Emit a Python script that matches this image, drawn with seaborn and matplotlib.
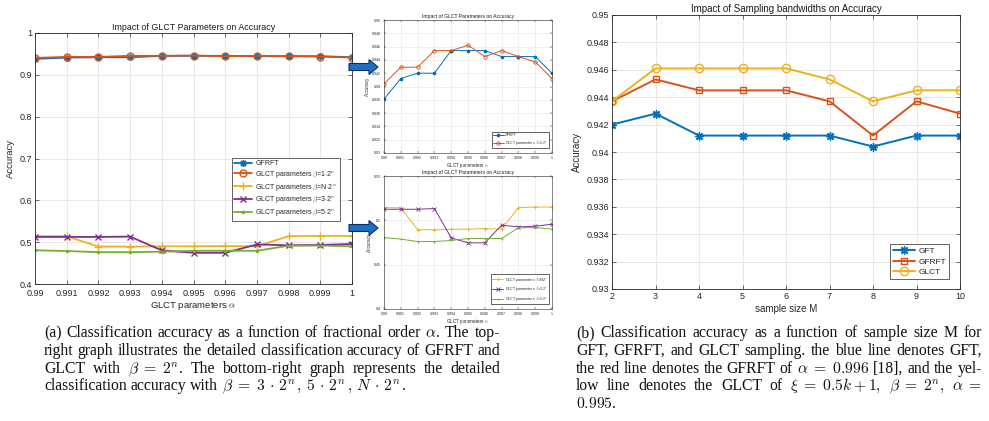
import matplotlib
matplotlib.use("Agg")
import matplotlib.pyplot as plt
import seaborn as sns
from matplotlib.patches import FancyArrow

# ---------------- data ----------------
alpha_grid = [0.99, 0.991, 0.992, 0.993, 0.994, 0.995, 0.996, 0.997, 0.998, 0.999, 1.0]
alpha_labels = ["0.99", "0.991", "0.992", "0.993", "0.994", "0.995",
                "0.996", "0.997", "0.998", "0.999", "1"]

gfrft_alpha = [0.9381, 0.9412, 0.9420, 0.9420, 0.9454, 0.9454, 0.9454, 0.9445, 0.9445, 0.9445, 0.9420]
glct_beta1 = [0.9404, 0.9429, 0.9429, 0.9454, 0.9454, 0.9462, 0.9445, 0.9454, 0.9445, 0.9437, 0.9412]
glct_betaN = [0.5144, 0.5140, 0.4896, 0.4893, 0.4900, 0.4900, 0.4907, 0.4900, 0.5144, 0.5150, 0.5150]
glct_beta3 = [0.5125, 0.5125, 0.5125, 0.5133, 0.4803, 0.4746, 0.4746, 0.4945, 0.4926, 0.4934, 0.4956]
glct_beta5 = [0.4806, 0.4788, 0.4761, 0.4761, 0.4773, 0.4795, 0.4795, 0.4795, 0.4915, 0.4919, 0.4900]

main_yticks = [0.4, 0.5, 0.6, 0.7, 0.8, 0.9, 1.0]
main_ylabels = ["0.4", "0.5", "0.6", "0.7", "0.8", "0.9", "1"]
top_yticks = [0.93, 0.932, 0.934, 0.936, 0.938, 0.94, 0.942, 0.944, 0.946, 0.948, 0.95]
top_ylabels = ["0.93", "0.932", "0.934", "0.936", "0.938", "0.94",
               "0.942", "0.944", "0.946", "0.948", "0.95"]
bot_yticks = [0.4, 0.45, 0.5, 0.55]
bot_ylabels = ["0.4", "0.45", "0.5", "0.55"]

sample_sizes = [2, 3, 4, 5, 6, 7, 8, 9, 10]
gft_M = [0.9420, 0.9428, 0.9412, 0.9412, 0.9412, 0.9412, 0.9404, 0.9412, 0.9412]
gfrft_M = [0.9437, 0.9453, 0.9445, 0.9445, 0.9445, 0.9437, 0.9412, 0.9437, 0.9428]
glct_M = [0.9437, 0.9461, 0.9461, 0.9461, 0.9461, 0.9453, 0.9437, 0.9445, 0.9445]

BLUE, ORANGE, YELLOW, PURPLE, GREEN = "#0072BD", "#D95319", "#EDB120", "#7E2F8E", "#77AC30"
ASTERISK = (8, 2, 0)

# ---------------- style ----------------
sns.set_theme(style="whitegrid")
plt.rcParams["font.family"] = ["Liberation Sans", "DejaVu Sans"]
plt.rcParams["mathtext.fontset"] = "cm"
plt.rcParams["axes.unicode_minus"] = False

W, H, DPI = 989, 421, 100
fig = plt.figure(figsize=(W / DPI, H / DPI), dpi=DPI)
fig.patch.set_facecolor("white")


def box(l, t, r, b):
    return [l / W, 1 - b / H, (r - l) / W, (b - t) / H]


ax_a = fig.add_axes(box(35, 33, 352, 284))
ax_top = fig.add_axes(box(384, 20, 552, 153))
ax_bot = fig.add_axes(box(384, 176, 552, 309))
ax_b = fig.add_axes(box(612, 15, 960, 289))


def matlab_axes(ax, fs, tick_len, lw=0.6, xpad=2):
    ax.set_facecolor("white")
    for s in ax.spines.values():
        s.set_visible(True)
        s.set_color("#262626")
        s.set_linewidth(lw)
    ax.grid(True, color="#e4e4e4", linewidth=lw)
    ax.tick_params(direction="in", top=True, right=True, length=tick_len,
                   width=lw * 0.8, labelsize=fs, colors="#262626", pad=2)
    ax.tick_params(axis="x", pad=xpad)
    ax.tick_params(axis="both", which="both", bottom=True, left=True)


def series(ax, x, y, color, marker, ms, lw, label, mew=1.0, filled=False):
    sns.lineplot(x=x, y=y, ax=ax, color=color, marker=marker, markersize=ms,
                 mec=color, mfc=(color if filled else "none"), mew=mew,
                 linewidth=lw, label=label, legend=False)


def legend(ax, anchor, fs, **kw):
    leg = ax.legend(loc="lower right", bbox_to_anchor=anchor, fontsize=fs,
                    frameon=True, fancybox=False, edgecolor="#262626",
                    framealpha=1, **kw)
    leg.get_frame().set_linewidth(0.5)
    return leg


lbl_b1 = r"GLCT parameters $\beta$=1$\cdot$2$^n$"
lbl_bN = r"GLCT parameters $\beta$=N$\cdot$2$^n$"
lbl_b3 = r"GLCT parameters $\beta$=3$\cdot$2$^n$"
lbl_b5 = r"GLCT parameters $\beta$=5$\cdot$2$^n$"

# ---------------- panel (a): all parameter settings ----------------
series(ax_a, alpha_grid, gfrft_alpha, BLUE, ASTERISK, 5, 1.3, "GFRFT")
series(ax_a, alpha_grid, glct_beta1, ORANGE, "o", 5, 1.3, lbl_b1)
series(ax_a, alpha_grid, glct_betaN, YELLOW, "+", 6, 1.3, lbl_bN)
series(ax_a, alpha_grid, glct_beta3, PURPLE, "x", 5, 1.3, lbl_b3)
series(ax_a, alpha_grid, glct_beta5, GREEN, ".", 3, 1.3, lbl_b5, filled=True)
matlab_axes(ax_a, 6.5, 3, xpad=3.5)
ax_a.set_xlim(0.99, 1.0)
ax_a.set_ylim(0.4, 1.0)
ax_a.set_xticks(alpha_grid, alpha_labels)
ax_a.set_yticks(main_yticks, main_ylabels)
ax_a.set_title("Impact of GLCT Parameters on Accuracy", fontsize=6.4, pad=2.5, color="#1a1a1a")
ax_a.set_xlabel(r"GLCT parameters $\alpha$", fontsize=6.8, labelpad=1.5, color="#262626")
ax_a.set_ylabel("Accuracy", fontsize=6.8, labelpad=3, color="#262626")
legend(ax_a, (0.972, 0.239), 5.0, labelspacing=0.25, handlelength=2.6,
       handletextpad=0.4, borderpad=0.35)

# ---------------- top inset: beta = 2^n ----------------
series(ax_top, alpha_grid, gfrft_alpha, BLUE, ASTERISK, 2.5, 0.7, "GFRFT", mew=0.6)
series(ax_top, alpha_grid, glct_beta1, ORANGE, "o", 2.5, 0.7, lbl_b1, mew=0.6)
matlab_axes(ax_top, 2.6, 1.5, lw=0.4)
ax_top.set_xlim(0.99, 1.0)
ax_top.set_ylim(0.93, 0.95)
ax_top.set_xticks(alpha_grid, alpha_labels)
ax_top.set_yticks(top_yticks, top_ylabels)
ax_top.set_title("Impact of GLCT Parameters on Accuracy", fontsize=3.6, pad=1.5, color="#1a1a1a")
ax_top.set_xlabel(r"GLCT parameters $\alpha$", fontsize=3.3, labelpad=1, color="#262626")
ax_top.set_ylabel("Accuracy", fontsize=3.3, labelpad=1.5, color="#262626")
legend(ax_top, (0.994, 0.023), 2.6, labelspacing=0.2, handlelength=3.0,
       handletextpad=0.4, borderpad=0.3)

# ---------------- bottom inset: beta = 3*2^n, 5*2^n, N*2^n ----------------
series(ax_bot, alpha_grid, glct_betaN, YELLOW, "+", 3, 0.7, lbl_bN, mew=0.6)
series(ax_bot, alpha_grid, glct_beta3, PURPLE, "x", 2.5, 0.7, lbl_b3, mew=0.6)
series(ax_bot, alpha_grid, glct_beta5, GREEN, ".", 1.5, 0.7, lbl_b5, mew=0.6, filled=True)
matlab_axes(ax_bot, 2.6, 1.5, lw=0.4)
ax_bot.set_xlim(0.99, 1.0)
ax_bot.set_ylim(0.4, 0.55)
ax_bot.set_xticks(alpha_grid, alpha_labels)
ax_bot.set_yticks(bot_yticks, bot_ylabels)
ax_bot.set_title("Impact of GLCT Parameters on Accuracy", fontsize=3.6, pad=1.5, color="#1a1a1a")
ax_bot.set_xlabel(r"GLCT parameters $\alpha$", fontsize=3.3, labelpad=1, color="#262626")
ax_bot.set_ylabel("Accuracy", fontsize=3.3, labelpad=1.5, color="#262626")
legend(ax_bot, (0.994, 0.023), 2.6, labelspacing=0.2, handlelength=3.0,
       handletextpad=0.4, borderpad=0.3)

# ---------------- panel (b): sample size ----------------
series(ax_b, sample_sizes, gft_M, BLUE, ASTERISK, 6, 1.4, "GFT")
series(ax_b, sample_sizes, gfrft_M, ORANGE, "s", 5, 1.4, "GFRFT")
series(ax_b, sample_sizes, glct_M, YELLOW, "o", 6, 1.4, "GLCT")
matlab_axes(ax_b, 6.5, 3)
ax_b.set_xlim(2, 10)
ax_b.set_ylim(0.93, 0.95)
ax_b.set_xticks(sample_sizes, [str(m) for m in sample_sizes])
ax_b.set_yticks(top_yticks, top_ylabels)
ax_b.set_title("Impact of Sampling bandwidths on Accuracy", fontsize=7, pad=2.5, color="#1a1a1a")
ax_b.set_xlabel("sample size M", fontsize=7, labelpad=2, color="#262626")
ax_b.set_ylabel("Accuracy", fontsize=7, labelpad=3, color="#262626")
legend(ax_b, (0.98, 0.022), 6, labelspacing=0.3, handlelength=2.6,
       handletextpad=0.4, borderpad=0.35)

# ---------------- block arrows pointing at the zoomed insets ----------------
for y_top in (67, 228):
    arr = FancyArrow(349 / DPI, (H - y_top) / DPI, 29 / DPI, 0,
                     width=7 / DPI, head_width=15 / DPI, head_length=9 / DPI,
                     length_includes_head=True, transform=fig.dpi_scale_trans,
                     facecolor="#1f6fc5", edgecolor="#0b2f5e", linewidth=0.8,
                     zorder=10)
    fig.patches.append(arr)


# ---------------- justified captions ----------------
def split_words(s):
    words, cur, in_math = [], "", False
    for ch in s:
        if ch == "$":
            in_math = not in_math
        if ch == " " and not in_math:
            if cur:
                words.append(cur)
            cur = ""
        else:
            cur += ch
    if cur:
        words.append(cur)
    return words


def caption(lines, x0, x1, baselines, size):
    renderer = fig.canvas.get_renderer()
    space = size * DPI / 72 * 0.25
    for k, line in enumerate(lines):
        words = split_words(line)
        texts = [fig.text(0, 0, w, fontsize=size, family="Liberation Serif",
                          va="baseline", ha="left", color="#111111") for w in words]
        widths = [t.get_window_extent(renderer).width for t in texts]
        last = k == len(lines) - 1
        gap = space if (last or len(words) < 2) else (x1 - x0 - sum(widths)) / (len(words) - 1)
        x = x0
        for t, w in zip(texts, widths):
            t.set_position((x / W, (H - baselines[k]) / H))
            x += w + gap


caption_a = [
    r"(a) Classification accuracy as a function of fractional order $\alpha$. The top-",
    r"right graph illustrates the detailed classification accuracy of GFRFT and",
    r"GLCT with $\beta\;=\;2^n$. The bottom-right graph represents the detailed",
    r"classification accuracy with $\beta\;=\;3\,\cdot\,2^n\,,\,5\,\cdot\,2^n\,,\,N\,\cdot\,2^n\,$.",
]
caption_b = [
    r"(b) Classification accuracy as a function of sample size M for",
    r"GFT, GFRFT, and GLCT sampling.  the blue line denotes GFT,",
    r"the red line denotes the GFRFT of $\alpha\;=\;0.996$ [18], and the yel-",
    r"low line denotes the GLCT of $\xi\;=\;0.5k+1,$ $\beta\;=\;2^n,$ $\alpha\;=$",
    r"$0.995$.",
]
caption(caption_a, 44, 500, [337, 355, 373, 390], 11.3)
caption(caption_b, 576, 982, [337, 355, 373, 390, 408], 11.3)

fig.savefig("out.png", dpi=DPI, facecolor="white")
